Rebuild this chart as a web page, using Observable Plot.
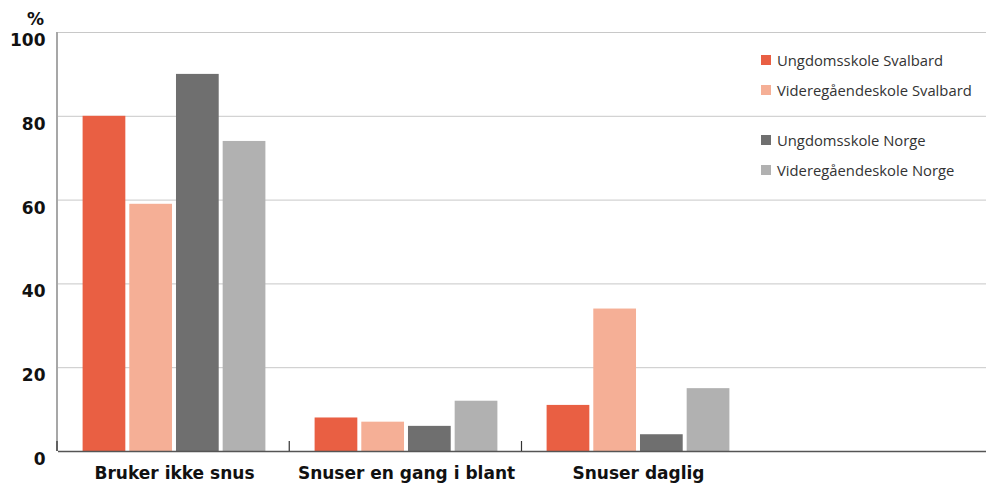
<!DOCTYPE html>
<html>
<head>
<meta charset="utf-8">
<script src="https://cdn.jsdelivr.net/npm/d3@7"></script>
<script src="https://cdn.jsdelivr.net/npm/@observablehq/plot@0.6"></script>
<style>
  html, body { margin: 0; padding: 0; background: #fff; }
  #wrap { position: relative; width: 986px; height: 484px; }
  #pct { position: absolute; right: calc(986px - 44px); top: 9px; font: 700 17px "DejaVu Sans", sans-serif; color: #111; }
  #legend { position: absolute; left: 761px; top: 0; font: 14.8px "Open Sans", sans-serif; color: #333; }
  #legend .item { position: absolute; left: 0; white-space: nowrap; display: flex; align-items: center; transform: translateY(-50%); }
  #legend .sw { width: 10px; height: 10px; margin-right: 6px; flex: none; }
</style>
</head>
<body>
<div id="wrap">
  <div id="chart"></div>
  <div id="pct">%</div>
  <div id="legend"></div>
</div>
<script>
const categories = ["Bruker ikke snus", "Snuser en gang i blant", "Snuser daglig", " "];
const series = ["Ungdomsskole Svalbard", "Videregåendeskole Svalbard", "Ungdomsskole Norge", "Videregåendeskole Norge"];
const ungdomsskoleSvalbard = [80, 8, 11];
const videregaendeSvalbard = [59, 7, 34];
const ungdomsskoleNorge = [90, 6, 4];
const videregaendeNorge = [74, 12, 15];
const colors = ["#E95F43", "#F5AF96", "#6F6F6F", "#B1B1B1"];
const yTicks = [0, 20, 40, 60, 80, 100];
const legendRowsTop = [60, 90, 140, 170];

const valueSets = [ungdomsskoleSvalbard, videregaendeSvalbard, ungdomsskoleNorge, videregaendeNorge];
const data = [];
series.forEach((s, si) => {
  valueSets[si].forEach((v, ci) => data.push({cat: categories[ci], series: s, value: v}));
});
const grid = [];
categories.forEach(c => yTicks.slice(1).forEach(v => grid.push({cat: c, v})));
const base = categories.map(c => ({cat: c, v: 0}));

const W = 986, H = 484, ML = 57, MR = 0, MT = 32, MB = 33;

const chart = Plot.plot({
  width: W, height: H,
  marginLeft: ML, marginRight: MR, marginTop: MT, marginBottom: MB,
  style: {fontFamily: "'DejaVu Sans', sans-serif", background: "#fff", overflow: "visible"},
  fx: {domain: categories, padding: 0, label: null, axis: null},
  x: {domain: series, paddingInner: 0.085, paddingOuter: 0.527, round: false, axis: null},
  y: {domain: [0, 100], axis: null, label: null},
  color: {domain: series, range: colors},
  marks: [
    Plot.ruleY(grid, {fx: "cat", y: "v", stroke: "#c8c8c8", strokeWidth: 1}),
    Plot.barY(data, {fx: "cat", x: "series", y: "value", fill: "series"}),
    Plot.ruleY(base, {fx: "cat", y: "v", stroke: "#555", strokeWidth: 1.5}),
    Plot.axisY(yTicks, {tickSize: 0, tickPadding: 13, dy: 8, fontSize: 17, fontWeight: 700, fill: "#111", label: null}),
    Plot.axisFx({anchor: "bottom", tickSize: 0, tickPadding: 15, fontSize: 17, fontWeight: 700, fill: "#111", label: null})
  ]
});
document.getElementById("chart").appendChild(chart);

// Left axis line and small boundary ticks between categories, derived from scales
const fxS = chart.scale("fx");
const yS = chart.scale("y");
const yPix = v => yS.range[0] + (v - yS.domain[0]) / (yS.domain[1] - yS.domain[0]) * (yS.range[1] - yS.range[0]);
const step = (fxS.range[1] - fxS.range[0]) / fxS.domain.length;
const svg = d3.select(chart);
svg.append("line")
  .attr("x1", fxS.range[0]).attr("x2", fxS.range[0])
  .attr("y1", yPix(100)).attr("y2", yPix(0))
  .attr("stroke", "#8a8a8a").attr("stroke-width", 1.5);
for (let i = 0; i < 3; i++) {
  const x = fxS.range[0] + step * i;
  svg.append("line")
    .attr("x1", x).attr("x2", x)
    .attr("y1", yPix(0) - 10).attr("y2", yPix(0))
    .attr("stroke", "#333").attr("stroke-width", 1.2);
}

// Legend
const legend = document.getElementById("legend");
series.forEach((s, i) => {
  const d = document.createElement("div");
  d.className = "item";
  d.style.top = legendRowsTop[i] + "px";
  d.innerHTML = `<span class="sw" style="background:${colors[i]}"></span><span>${s}</span>`;
  legend.appendChild(d);
});
</script>
</body>
</html>
